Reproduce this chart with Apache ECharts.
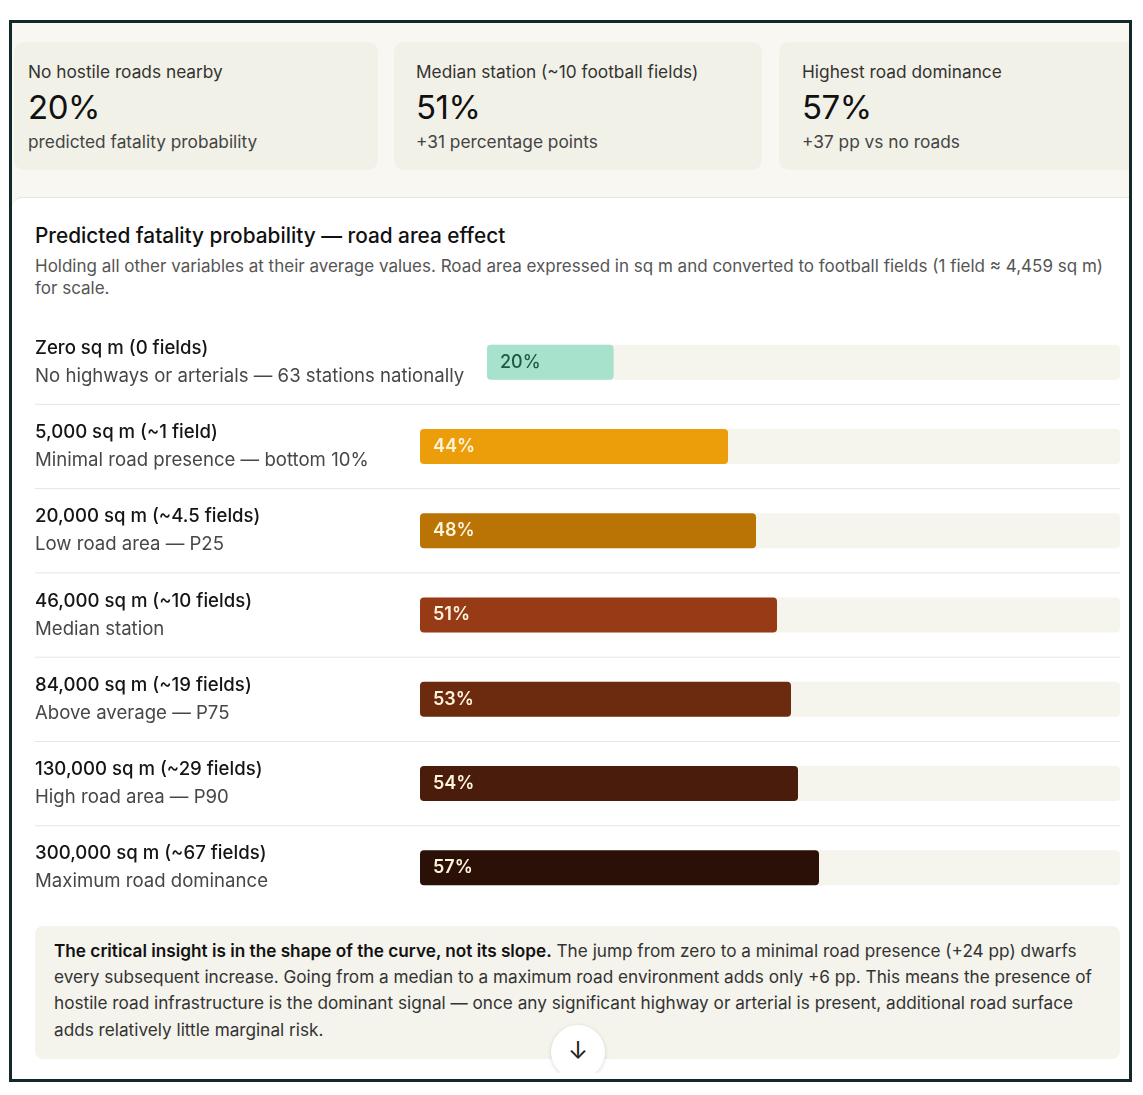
<!DOCTYPE html>
<html>
<head>
<meta charset="utf-8">
<script src="https://cdn.jsdelivr.net/npm/echarts@6/dist/echarts.min.js"></script>
<style>
  body { margin: 0; background: #fff; font-family: Inter, "Noto Sans", sans-serif; }
  #frame { position: absolute; left: 9px; top: 20px; width: 1117px; height: 1056px;
    border: 3px solid #12282b; background: #fff; overflow: hidden; }
  #top { position: absolute; left: 0; top: 0; width: 1118px; height: 190px; background: #f8f7f1; }
  .card { position: absolute; top: 19px; height: 128px; background: #f2f1e8; border-radius: 10px; }
  .card .lab { position: absolute; top: 19px; font-size: 17.3px; color: #333; white-space: nowrap; }
  .card .val { position: absolute; top: 45px; font-size: 33px; color: #111; letter-spacing: -0.5px; }
  .card .note { position: absolute; top: 89px; font-size: 17.3px; color: #444; white-space: nowrap; }
  #panel { position: absolute; left: 0; top: 174px; width: 1118px; height: 875px; background: #fff;
    border-top: 1px solid #e6e4dc; border-top-left-radius: 10px; overflow: hidden; }
  #title { position: absolute; left: 23px; top: 25px; font-size: 20.8px; color: #111; font-weight: 500; white-space: nowrap; }
  #sub { position: absolute; left: 23px; top: 57px; font-size: 17px; color: #555; line-height: 22px; white-space: nowrap; }
  #chart { position: absolute; left: 0; top: 122px; width: 1118px; height: 590px; }
  #insight { position: absolute; left: 23px; top: 728px; width: 1085px; height: 133px; background: #f4f3ec;
    border-radius: 8px; }
  #insight div { position: absolute; left: 19px; font-size: 17.2px; color: #333; white-space: nowrap; }
  #insight b { font-weight: 600; color: #111; }
  #arrow { position: absolute; left: 539px; top: 827px; width: 54px; height: 54px; border-radius: 50%;
    background: #fff; box-shadow: 0 1px 4px rgba(0,0,0,0.15); text-align: center; line-height: 52px;
    font-size: 24px; color: #222; }
</style>
</head>
<body>
<div id="frame">
  <div id="top"></div>
  <div id="cards"></div>
  <div id="panel">
    <div id="title">Predicted fatality probability — road area effect</div>
    <div id="sub">Holding all other variables at their average values. Road area expressed in sq m and converted to football fields (1 field ≈ 4,459 sq m)<br>for scale.</div>
    <div id="chart"></div>
    <div id="insight">
      <div style="top:14px"><b>The critical insight is in the shape of the curve, not its slope.</b> The jump from zero to a minimal road presence (+24 pp) dwarfs</div>
      <div style="top:40px">every subsequent increase. Going from a median to a maximum road environment adds only +6 pp. This means the presence of</div>
      <div style="top:66px">hostile road infrastructure is the dominant signal — once any significant highway or arterial is present, additional road surface</div>
      <div style="top:93px">adds relatively little marginal risk.</div>
    </div>
    <div id="arrow">↓</div>
  </div>
</div>
<script>
// summary cards
const cardLabels = ['No hostile roads nearby', 'Median station (~10 football fields)', 'Highest road dominance']
const cardValues = ['20%', '51%', '57%']
const cardNotes = ['predicted fatality probability', '+31 percentage points', '+37 pp vs no roads']

// bar rows
const rowTitles = [
  'Zero sq m (0 fields)',
  '5,000 sq m (~1 field)',
  '20,000 sq m (~4.5 fields)',
  '46,000 sq m (~10 fields)',
  '84,000 sq m (~19 fields)',
  '130,000 sq m (~29 fields)',
  '300,000 sq m (~67 fields)',
]
const rowNotes = [
  'No highways or arterials — 63 stations nationally',
  'Minimal road presence — bottom 10%',
  'Low road area — P25',
  'Median station',
  'Above average — P75',
  'High road area — P90',
  'Maximum road dominance',
]
const probs = [20, 44, 48, 51, 53, 54, 57]
const barColors = ['#a6e2cc', '#eb9e0a', '#b97405', '#973a16', '#6c2a0f', '#4a1c0b', '#2b1007']

// left, width, text padding
const cardBox = [[2, 364, 14], [382, 368, 22], [767, 370, 23]]
const cards = document.getElementById('cards')
cardLabels.forEach((lab, i) => {
  const d = document.createElement('div')
  const p = cardBox[i][2] + 'px'
  d.className = 'card'
  d.style.left = cardBox[i][0] + 'px'
  d.style.width = cardBox[i][1] + 'px'
  d.innerHTML = '<div class="lab" style="left:' + p + '">' + lab + '</div>' +
    '<div class="val" style="left:' + p + '">' + cardValues[i] + '</div>' +
    '<div class="note" style="left:' + p + '">' + cardNotes[i] + '</div>'
  cards.appendChild(d)
})

const rowH = 84.3
const labelX = 23

const labelRich = {
  t: { fontSize: 18.6, fontWeight: 500, color: '#151515', lineHeight: 28, fontFamily: 'Inter' },
  s: { fontSize: 18.6, color: '#474747', lineHeight: 28, fontFamily: 'Inter' },
}

function makeYAxis(gridIndex, cats, left) {
  return {
    type: 'category', gridIndex, data: cats, inverse: true,
    axisLine: { show: false }, axisTick: { show: false },
    axisLabel: {
      align: 'left', margin: left - labelX,
      formatter: v => {
        const i = rowTitles.indexOf(v)
        return '{t|' + v + '}\n{s|' + rowNotes[i] + '}'
      },
      rich: labelRich,
    },
  }
}

function makeSeries(idx, vals, colors, labelColor, weight) {
  return {
    type: 'bar', xAxisIndex: idx, yAxisIndex: idx, barWidth: 35,
    data: vals.map((v, i) => ({ value: v, itemStyle: { color: colors[i] } })),
    itemStyle: { borderRadius: 4 },
    showBackground: true,
    backgroundStyle: { color: '#f5f4ed', borderRadius: 4 },
    label: {
      show: true, position: 'insideLeft', distance: 13, formatter: '{c}%',
      color: labelColor, fontSize: 18, fontWeight: weight, fontFamily: 'Inter',
    },
    silent: true,
  }
}

const dividers = []
for (let k = 1; k < rowTitles.length; k++) {
  dividers.push({
    type: 'line', silent: true,
    shape: { x1: labelX, y1: rowH * k, x2: 1108, y2: rowH * k },
    style: { stroke: '#e7e5df', lineWidth: 1 },
  })
}

const chart = echarts.init(document.getElementById('chart'), null, { renderer: 'canvas' })
chart.setOption({
  animation: false,
  grid: [
    { left: 475, right: 10, top: 0, height: rowH },
    { left: 408, right: 10, top: rowH, height: rowH * 6 },
  ],
  xAxis: [
    { type: 'value', gridIndex: 0, min: 0, max: 100, show: false },
    { type: 'value', gridIndex: 1, min: 0, max: 100, show: false },
  ],
  yAxis: [
    makeYAxis(0, rowTitles.slice(0, 1), 475),
    makeYAxis(1, rowTitles.slice(1), 408),
  ],
  series: [
    makeSeries(0, probs.slice(0, 1), barColors.slice(0, 1), '#1c5a45', 500),
    makeSeries(1, probs.slice(1), barColors.slice(1), '#fff4dc', 600),
  ],
  graphic: dividers,
})
</script>
</body>
</html>
